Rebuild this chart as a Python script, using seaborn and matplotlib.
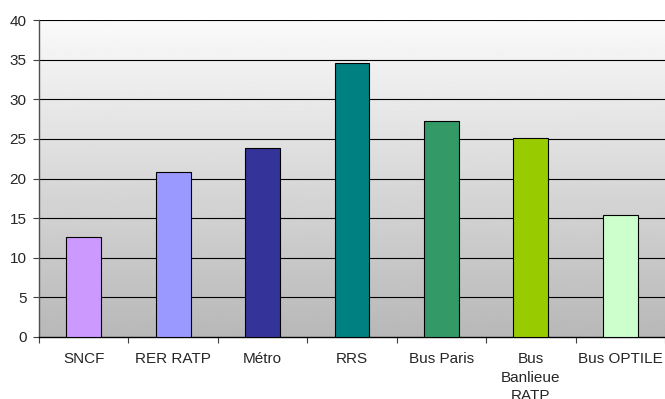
import numpy as np
import pandas as pd
import seaborn as sns
import matplotlib.pyplot as plt
from matplotlib.ticker import FixedLocator

# ======================
# data

categories = ['SNCF', 'RER RATP', 'Métro', 'RRS', 'Bus Paris',
              'Bus\nBanlieue\nRATP', 'Bus OPTILE']
values = [12.6, 20.8, 23.9, 34.6, 27.2, 25.1, 15.4]
colours = ['#CC99FF', '#9999FF', '#333399', '#008080', '#339966',
           '#99CC00', '#CCFFCC']
y_ticks = [0, 5, 10, 15, 20, 25, 30, 35, 40]

df = pd.DataFrame({'cat': categories, 'val': values})

# ======================
# plot

sns.set_style('white')
plt.rcParams['font.family'] = ['Liberation Sans', 'DejaVu Sans']

fig = plt.figure(figsize=(6.65, 3.99), dpi=100)
ax = fig.add_axes([39 / 665, 62 / 399, 1 - 39 / 665, 317 / 399])

# gradient background (white at top -> grey at bottom)
grad = np.linspace(0.98, 0.72, 256).reshape(-1, 1)
ax.imshow(grad, cmap='gray', vmin=0, vmax=1, aspect='auto',
          extent=[0, 1, 0, 1], transform=ax.transAxes, zorder=0)

sns.barplot(data=df, x='cat', y='val', hue='cat', palette=colours,
            saturation=1, width=0.39, edgecolor='black', linewidth=0.8,
            legend=False, ax=ax, zorder=3)

ax.set_xlim(-0.5, len(categories) - 0.5)
ax.set_ylim(0, 40)
ax.set_yticks(y_ticks)
ax.set_xlabel('')
ax.set_ylabel('')

# gridlines
for y in y_ticks[1:]:
    ax.axhline(y, color='black', lw=0.8, zorder=2)

# ticks: labels at centres, tick marks at category boundaries
ax.xaxis.set_minor_locator(FixedLocator(np.arange(-0.5, len(categories), 1)))
ax.tick_params(axis='x', which='major', length=0, pad=11, labelsize=11)
ax.tick_params(axis='x', which='minor', length=4, width=0.8,
               direction='out', color='#404040', bottom=True)
ax.tick_params(axis='y', length=4, width=0.8, direction='out',
               color='#404040', pad=5, labelsize=11, left=True)
for lab in ax.get_xticklabels():
    lab.set_verticalalignment('top')
    lab.set_linespacing(1.4)

for side in ['top', 'right']:
    ax.spines[side].set_visible(False)
ax.spines['left'].set_color('#505050')
ax.spines['left'].set_linewidth(1.0)
ax.spines['bottom'].set_color('black')
ax.spines['bottom'].set_linewidth(1.0)

plt.savefig('out.png', dpi=100)
plt.close()
